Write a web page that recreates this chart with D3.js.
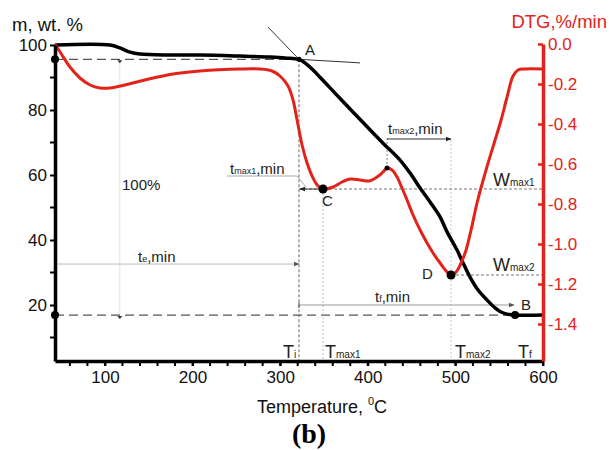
<!DOCTYPE html>
<html>
<head>
<meta charset="utf-8">
<script src="https://cdn.jsdelivr.net/npm/d3@7"></script>
<style>
  html, body { margin: 0; padding: 0; background: #fff; }
  svg { display: block; font-family: "Liberation Sans", Arial, sans-serif; }
</style>
</head>
<body>
<svg id="chart" width="609" height="450"></svg>
<script>
// ---------------- data ----------------
const tgTemp = [43, 105.8, 117, 128.6, 140, 174, 208.5, 254, 288, 305.6, 322.7, 334, 345.5, 362.6, 379.8, 399, 417.4, 436.8, 448.3, 459.7, 471.1, 482.5, 490.5, 501.9, 508.8, 516.7, 525.9, 536.2, 545.3, 551, 559, 568.1, 600];
const tgMass = [100, 100, 99.1, 97.8, 97.2, 96.9, 96.9, 96.6, 96.3, 96.0, 95.4, 93.2, 90.1, 85.2, 80.3, 74.9, 69.8, 64.6, 60.6, 56.0, 51.7, 47.1, 42.5, 36.9, 32.9, 28.6, 24.6, 21.5, 19.1, 18.0, 17.2, 16.9, 16.9];

const dtgTemp = [43, 51, 60.1, 71.5, 83, 94.4, 105.8, 122.9, 145.7, 177.7, 208.5, 254.2, 277, 290.7, 299.8, 309, 314.7, 319.3, 325, 330.7, 337.5, 343.2, 348.9, 360.4, 370.6, 379.8, 391.2, 401.4, 410.6, 417.4, 422, 427.7, 433.4, 439.1, 444.8, 451.7, 459.7, 467.7, 474.5, 482.5, 490.5, 495, 500.8, 506.5, 512.2, 517.9, 524.7, 535, 545.3, 552.2, 559, 565.8, 571.5, 579.5, 600];
const dtgRate = [0, -0.055, -0.115, -0.17, -0.205, -0.22, -0.22, -0.205, -0.18, -0.15, -0.135, -0.125, -0.125, -0.135, -0.16, -0.21, -0.28, -0.38, -0.505, -0.595, -0.67, -0.71, -0.725, -0.715, -0.69, -0.675, -0.68, -0.685, -0.665, -0.64, -0.62, -0.63, -0.665, -0.72, -0.78, -0.855, -0.93, -0.995, -1.045, -1.095, -1.14, -1.155, -1.14, -1.095, -1.03, -0.93, -0.795, -0.63, -0.48, -0.38, -0.265, -0.16, -0.13, -0.125, -0.125];

const tempTicks = [100, 200, 300, 400, 500, 600];
const tempMinorTicks = d3.range(60, 601, 20);
const massTicks = [20, 40, 60, 80, 100];
const massMinorTicks = [10, 30, 50, 70, 90];
const rateTicks = [0, -0.2, -0.4, -0.6, -0.8, -1.0, -1.2, -1.4];
const rateTickLabels = ["0.0", "-0.2", "-0.4", "-0.6", "-0.8", "-1.0", "-1.2", "-1.4"];

// characteristic points (temperature, value)
const Ti = 321.5, mA = 95.6;           // onset A
const Tc = 348.9, rC = -0.725;         // C
const Tpk = 422, rPk = -0.62;          // local peak before D
const Td = 495, rD = -1.155;           // D
const Tb = 568.1, mB = 16.9;           // B
const teMass = 32.6, tfMass = 20.0;
const Tguide = 117;

// ---------------- setup ----------------
const RED = "#e2231a";
const svg = d3.select("#chart");
const x = d3.scaleLinear().domain([43, 600]).range([55, 543]);
const y = d3.scaleLinear().domain([2.77, 100]).range([361, 45]);
const y2 = d3.scaleLinear().domain([-1.585, 0]).range([361, 44]);

const defs = svg.append("defs");
function marker(id, color) {
  defs.append("marker").attr("id", id).attr("viewBox", "0 0 10 10")
    .attr("refX", 9).attr("refY", 5).attr("markerWidth", 6).attr("markerHeight", 6)
    .attr("orient", "auto-start-reverse")
    .append("path").attr("d", "M0,1 L10,5 L0,9 z").attr("fill", color);
}
marker("arr", "#222");
marker("arrg", "#555");

const g = svg.append("g");

// ---------------- guide lines ----------------
function line(x1, y1, x2, y2_, stroke, width, dash) {
  const l = g.append("line").attr("x1", x1).attr("y1", y1).attr("x2", x2).attr("y2", y2_)
    .attr("stroke", stroke).attr("stroke-width", width);
  if (dash) l.attr("stroke-dasharray", dash);
  return l;
}
// faint vertical mass-loss guide
line(x(Tguide), y(mA) + 2, x(Tguide), y(mB), "#e2e2e2", 1);
// long dashed horizontals
line(x(43), y(mA), x(Ti), y(mA), "#555", 1.3, "9,5");
line(x(43), y(mB), x(Tb), y(mB), "#555", 1.3, "9,5");
// small markers on the dashed lines
[mA, mB].forEach(m => {
  g.append("path").attr("d", `M${x(Tguide) - 2.5},${y(m) + 1} L${x(Tguide) + 2.5},${y(m) + 1} L${x(Tguide)},${y(m) + 4} z`).attr("fill", "#333");
});
// Ti vertical
line(x(Ti), y(mA), x(Ti), 361, "#666", 1, "3,2");
// Tmax1 vertical
line(x(Tc), y2(rC), x(Tc), 361, "#bbb", 1, "2,2");
// Tmax2 vertical
line(x(Td), 140, x(Td), 361, "#c8c8c8", 1, "2,2");
// peak vertical
line(x(Tpk), y2(rPk), x(Tpk), 138, "#888", 1, "2,2");
// Wmax lines
line(x(Ti), y2(rC), 543, y2(rC), "#777", 1, "3,2");
line(x(Td), y2(rD), 543, y2(rD), "#777", 1, "3,2");
// te arrow
line(x(43) + 2, y(teMass), x(Ti), y(teMass), "#bbb", 1).attr("marker-end", "url(#arrg)");
// tf arrow
line(x(Ti), y(tfMass), x(Tb) - 1, y(tfMass), "#999", 1).attr("marker-end", "url(#arrg)");
line(x(Ti), y(tfMass) - 3, x(Ti), y(tfMass) + 3, "#555", 1);
// tmax1 arrow (Ti -> C)
line(x(Tc) - 4, y2(rC), x(Ti) + 1, y2(rC), "#333", 1).attr("marker-end", "url(#arr)");
// tmax1 leader
g.append("path").attr("d", `M227,176 L297,176 L306,187`).attr("fill", "none").attr("stroke", "#aaa").attr("stroke-width", 1);
// tmax2 arrow
line(x(Tpk), 139, x(Td), 139, "#333", 1).attr("marker-end", "url(#arr)");
// tangents at A
line(x(286.2), y(105.5), x(Ti), y(mA), "#333", 1);
line(x(Ti), y(mA), x(391.2), y(94.5), "#333", 1);

// ---------------- curves ----------------
const tgLine = d3.line().x((d, i) => x(tgTemp[i])).y((d, i) => y(tgMass[i])).curve(d3.curveCatmullRom.alpha(0.5));
g.append("path").attr("d", tgLine(tgTemp)).attr("fill", "none").attr("stroke", "#000").attr("stroke-width", 3.5).attr("stroke-linejoin", "round");

const dtgLine = d3.line().x((d, i) => x(dtgTemp[i])).y((d, i) => y2(dtgRate[i])).curve(d3.curveCatmullRom.alpha(0.5));
g.append("path").attr("d", dtgLine(dtgTemp)).attr("fill", "none").attr("stroke", RED).attr("stroke-width", 3).attr("stroke-linejoin", "round");

// ---------------- dots ----------------
function dot(cx, cy, r) { g.append("circle").attr("cx", cx).attr("cy", cy).attr("r", r).attr("fill", "#000"); }
dot(x(43), y(mA), 4);
dot(x(43), y(mB), 4);
dot(x(Ti), y(mA), 2.5);
dot(x(Tc), y2(rC), 4.5);
dot(x(Td), y2(rD), 4.5);
dot(x(Tb), y(mB), 4);
dot(x(Tpk), y2(rPk), 2.5);

// ---------------- axes ----------------
// left (mass)
const left = svg.append("g").attr("transform", "translate(55,0)")
  .call(d3.axisLeft(y).tickValues(massTicks).tickSize(5).tickSizeOuter(0).tickPadding(3));
left.selectAll("text").attr("font-size", 17).attr("fill", "#111").attr("font-family", "Liberation Sans, Arial, sans-serif");
left.selectAll(".tick line").attr("stroke-width", 2);
left.select(".domain").attr("stroke-width", 3.5);
massMinorTicks.forEach(m => svg.append("line").attr("x1", 50).attr("x2", 55).attr("y1", y(m)).attr("y2", y(m)).attr("stroke", "#000").attr("stroke-width", 2));

// bottom (temperature)
const bottom = svg.append("g").attr("transform", "translate(0,361)")
  .call(d3.axisBottom(x).tickValues(tempTicks).tickSize(5).tickSizeOuter(0).tickPadding(5));
bottom.selectAll("text").attr("font-size", 17).attr("fill", "#111").attr("font-family", "Liberation Sans, Arial, sans-serif");
bottom.selectAll(".tick line").attr("stroke-width", 2);
bottom.select(".domain").attr("stroke-width", 3.5);
tempMinorTicks.forEach(t => svg.append("line").attr("x1", x(t)).attr("x2", x(t)).attr("y1", 361).attr("y2", 366).attr("stroke", "#000").attr("stroke-width", 2));

// right (DTG)
const right = svg.append("g").attr("transform", "translate(543,0)")
  .call(d3.axisRight(y2).tickValues(rateTicks).tickFormat((d, i) => rateTickLabels[i]).tickSize(-5).tickSizeOuter(0).tickPadding(5));
right.selectAll("text").attr("font-size", 17).attr("fill", RED).attr("font-family", "Liberation Sans, Arial, sans-serif");
right.selectAll(".tick line").attr("stroke", RED).attr("stroke-width", 2.5);
right.select(".domain").attr("stroke", RED).attr("stroke-width", 3.5);

// ---------------- titles ----------------
svg.append("text").attr("x", 12).attr("y", 31).attr("font-size", 18.5).attr("fill", "#111").text("m, wt. %");
svg.append("text").attr("x", 607).attr("y", 28).attr("text-anchor", "end").attr("font-size", 18.5).attr("fill", RED).text("DTG,%/min");
const xt = svg.append("text").attr("x", 322).attr("y", 413).attr("text-anchor", "middle").attr("font-size", 18).attr("fill", "#111");
xt.append("tspan").text("Temperature, ");
xt.append("tspan").attr("font-size", 11).attr("dy", -8).text("0");
xt.append("tspan").attr("dy", 8).text("C");
svg.append("text").attr("x", 309).attr("y", 443).attr("text-anchor", "middle")
  .attr("font-family", "Liberation Serif, Times New Roman, serif").attr("font-weight", "bold").attr("font-size", 28).attr("fill", "#000").text("(b)");

// ---------------- annotations ----------------
function label(px, py, main, sub, rest, size, subSize) {
  const t = svg.append("text").attr("x", px).attr("y", py).attr("font-size", size).attr("fill", "#222");
  t.append("tspan").text(main);
  if (sub) t.append("tspan").attr("font-size", subSize).text(sub);
  if (rest) t.append("tspan").text(rest);
  return t;
}
label(305, 55, "A", null, null, 15);
label(322, 206, "C", null, null, 15);
label(422, 279, "D", null, null, 15);
label(521, 310, "B", null, null, 15);
label(122, 190, "100%", null, null, 15);
label(138, 262, "t", "e", ",min", 15, 9);
label(230, 174, "t", "max1", ",min", 15, 9);
label(388, 134, "t", "max2", ",min", 15, 9);
label(375, 302, "t", "f", ",min", 15, 9);
label(493, 186, "W", "max1", null, 18, 10);
label(493, 271, "W", "max2", null, 18, 10);
label(283, 358, "T", "i", null, 18, 10);
label(325, 358, "T", "max1", null, 18, 10);
label(455, 358, "T", "max2", null, 18, 10);
label(518, 358, "T", "f", null, 18, 10);
</script>
</body>
</html>
